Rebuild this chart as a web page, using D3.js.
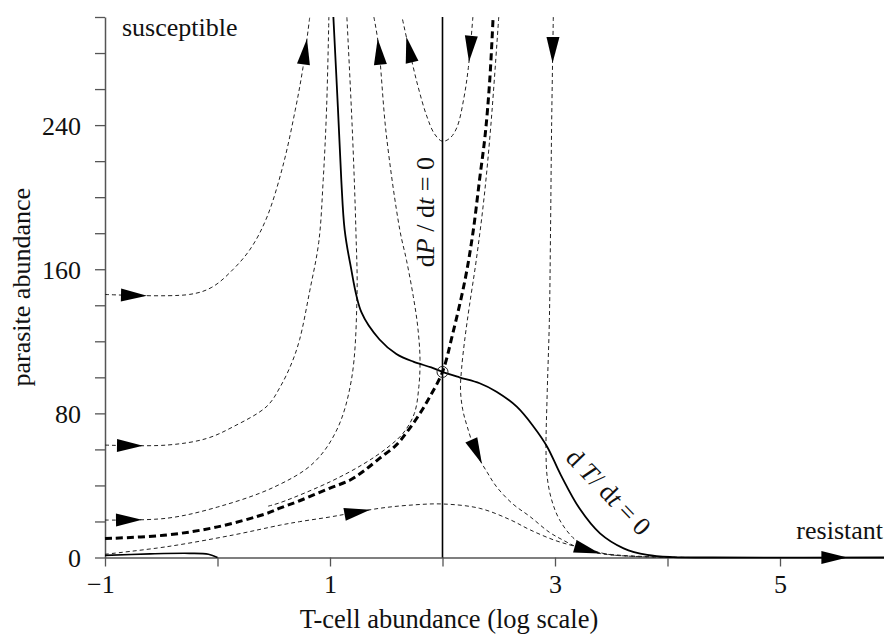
<!DOCTYPE html>
<html>
<head>
<meta charset="utf-8">
<script src="https://cdn.jsdelivr.net/npm/d3@7"></script>
<style>
  html, body { margin: 0; padding: 0; background: #fff; }
  svg { display: block; }
  text { font-family: "Liberation Serif", "Times New Roman", serif; fill: #111; }
</style>
</head>
<body>
<svg id="chart" width="884" height="636"></svg>
<script>
// ---------- axes ----------
const xTicks = [-1, 0, 1, 2, 3, 4, 5, 6];
const xTickLabels = { "-1": "\u22121", "1": "1", "3": "3", "5": "5" };
const yTicks = [0, 20, 40, 60, 80, 100, 120, 140, 160, 180, 200, 220, 240, 260, 280, 300];
const yTickLabels = [0, 80, 160, 240];

// ---------- nullclines: [log T-cell abundance, parasite abundance] ----------
const dTNullcline = [
  [1.03, 300], [1.07, 250], [1.10, 210], [1.13, 182], [1.18, 163], [1.28, 136],
  [1.44, 121], [1.59, 113], [1.74, 108.7], [1.90, 105.5], [2.0, 103], [2.15, 100],
  [2.33, 96.7], [2.48, 92], [2.66, 83.7], [2.81, 72.6], [2.93, 61.5], [3.05, 46],
  [3.22, 27], [3.40, 13.4], [3.61, 5.1], [3.82, 1.4], [4.05, 0.2], [4.4, 0], [6.1, 0]
];
const dTNullclineLow = [[-1, 1.2], [-0.6, 2.0], [-0.25, 2.3], [-0.08, 1.8], [0.0, 0]];
const dPNullcline = [[2, 0], [2, 300]];
const saddlePoint = [2, 103];

// ---------- stable manifold of the saddle (threshold) ----------
const separatrix = [
  [-1, 10.5], [-0.45, 12.5], [0, 17], [0.44, 24.5], [0.56, 27.5], [0.73, 31.5],
  [1.0, 38.5], [1.18, 43], [1.30, 48], [1.44, 55], [1.59, 62.5], [1.70, 71],
  [1.80, 80], [1.89, 89.5], [2.0, 103], [2.09, 124], [2.20, 154], [2.27, 180],
  [2.33, 210], [2.38, 235], [2.42, 265], [2.45, 300]
];

// ---------- sample trajectories, in direction of travel ----------
const trajA = [
  [-1, 146], [-0.25, 146], [-0.05, 150], [0.14, 160], [0.30, 172], [0.44, 189],
  [0.58, 217], [0.69, 248], [0.76, 272], [0.82, 300]
];
const trajB = [
  [-1, 62.4], [-0.45, 62.4], [-0.1, 66], [0.14, 72.6], [0.44, 84], [0.56, 95],
  [0.66, 108], [0.73, 121], [0.82, 148], [0.90, 175], [0.94, 210], [0.97, 250], [0.99, 300]
];
const trajC = [
  [-1, 20.8], [-0.45, 21.8], [0, 28], [0.5, 39], [0.85, 52.3], [1.06, 70.8],
  [1.19, 98.5], [1.24, 144.7], [1.23, 181.8], [1.20, 235], [1.15, 300]
];
const trajD = [
  [-1, 1.8], [-0.45, 6], [0.14, 12.5], [0.56, 18], [0.73, 19.9], [1.0, 22.5],
  [1.18, 24.5], [1.44, 27.3], [1.7, 29], [2.0, 29.7], [2.33, 27.3], [2.6, 21],
  [2.78, 15.3], [3.0, 9.5], [3.19, 6], [3.4, 2.5], [3.7, 0.8], [4.2, 0]
];
const trajE = [
  [0.45, 28.5], [0.56, 30.5], [1.0, 42], [1.3, 52], [1.5, 60.5], [1.65, 69],
  [1.75, 80], [1.79, 95], [1.80, 110], [1.78, 128], [1.74, 145], [1.68, 165],
  [1.62, 182], [1.50, 235], [1.43, 285], [1.39, 300]
];
const trajF = [
  [2.50, 300], [2.43, 240], [2.37, 200], [2.30, 165], [2.24, 140], [2.20, 122],
  [2.17, 105], [2.16, 93], [2.18, 82], [2.22, 72.6], [2.30, 58], [2.40, 47],
  [2.48, 39.3], [2.62, 30], [2.78, 22.6], [2.95, 14], [3.07, 9.7], [3.22, 5.1],
  [3.4, 2.2], [3.7, 0.6], [4.2, 0]
];
const trajG = [
  [2.27, 300], [2.23, 272], [2.19, 255], [2.13, 239], [2.07, 233], [2.0, 231],
  [1.93, 235], [1.86, 245], [1.78, 262], [1.70, 283], [1.64, 300]
];
const trajH = [
  [2.985, 300], [2.97, 240], [2.96, 180], [2.95, 132], [2.93, 90], [2.92, 60],
  [2.93, 45], [2.97, 32], [3.04, 21], [3.16, 11], [3.3, 5], [3.45, 2], [3.7, 0.6], [4.2, 0]
];

// arrowheads: which curve, and roughly where the tip sits
const arrowSpecs = [
  ["trajA", [-0.627, 146]], ["trajB", [-0.662, 62.4]], ["trajC", [-0.671, 20.8]],
  ["trajD", [1.356, 26.2]], ["trajA", [0.79, 288]], ["trajE", [1.43, 288]],
  ["trajG", [1.676, 289]], ["trajG", [2.253, 275]], ["trajH", [2.982, 274.5]],
  ["trajF", [2.36, 52.4]], ["trajF", [3.40, 2.4]], ["dTNullcline", [5.6, 0]]
];

// ---------- drawing ----------
const svg = d3.select("#chart");
const x = d3.scaleLinear().domain([-1, 6]).range([105, 892.5]);
const y = d3.scaleLinear().domain([0, 300]).range([557.5, 17]);
const FONT = 26;
const axisColor = "#555";

// y axis
const gy = svg.append("g").attr("transform", `translate(${x(-1)},0)`)
  .call(d3.axisLeft(y).tickValues(yTicks).tickSize(10).tickSizeOuter(0).tickPadding(14)
    .tickFormat(d => yTickLabels.includes(d) ? d : ""));
// x axis
const gx = svg.append("g").attr("transform", `translate(0,${y(0)})`)
  .call(d3.axisBottom(x).tickValues(xTicks).tickSize(9).tickSizeOuter(0).tickPadding(8)
    .tickFormat(d => xTickLabels[d] || ""));
[gx, gy].forEach(g => {
  g.attr("font-family", null).attr("font-size", null);
  g.select(".domain").attr("stroke", axisColor).attr("stroke-width", 1.5);
  g.selectAll(".tick line").attr("stroke", axisColor).attr("stroke-width", 1.3);
  g.selectAll(".tick text").attr("font-size", FONT).attr("fill", "#111");
});
gy.selectAll(".tick text").attr("dy", "0.35em");
gx.selectAll(".tick text").filter(d => d < 0).attr("dx", "-0.18em");

// axis titles
svg.append("text")
  .attr("transform", `translate(30,${(y(0) + y(300)) / 2}) rotate(-90)`)
  .attr("text-anchor", "middle").attr("font-size", FONT)
  .text("parasite abundance");
svg.append("text")
  .attr("x", 449).attr("y", 628)
  .attr("text-anchor", "middle").attr("font-size", 26.5)
  .text("T-cell abundance (log scale)");

const line = d3.line()
  .x(d => x(d[0])).y(d => y(d[1]))
  .curve(d3.curveCatmullRom.alpha(0.5));

const curves = { trajA, trajB, trajC, trajD, trajE, trajF, trajG, trajH };
const nodes = {};

// thin dashed trajectories
Object.entries(curves).forEach(([name, pts]) => {
  nodes[name] = svg.append("path")
    .attr("d", line(pts))
    .attr("fill", "none").attr("stroke", "#222")
    .attr("stroke-width", 1).attr("stroke-dasharray", "4,3")
    .node();
});

// separatrix
svg.append("path").attr("d", line(separatrix))
  .attr("fill", "none").attr("stroke", "#000")
  .attr("stroke-width", 3).attr("stroke-dasharray", "7,4");

// nullclines
nodes.dTNullcline = svg.append("path").attr("d", line(dTNullcline))
  .attr("fill", "none").attr("stroke", "#000").attr("stroke-width", 1.8).node();
svg.append("path").attr("d", line(dTNullclineLow))
  .attr("fill", "none").attr("stroke", "#000").attr("stroke-width", 1.6);
svg.append("path").attr("d", d3.line().x(d => x(d[0])).y(d => y(d[1]))(dPNullcline))
  .attr("fill", "none").attr("stroke", "#000").attr("stroke-width", 1.6);

// saddle equilibrium
svg.append("circle")
  .attr("cx", x(saddlePoint[0])).attr("cy", y(saddlePoint[1])).attr("r", 5.5)
  .attr("fill", "none").attr("stroke", "#222").attr("stroke-width", 1);

// arrowheads placed on their curves
const AL = 26, AW = 6.5;
arrowSpecs.forEach(([name, tipData]) => {
  const node = nodes[name];
  const total = node.getTotalLength();
  const tx = x(tipData[0]), ty = y(tipData[1]);
  let best = 0, bestD = Infinity;
  for (let l = 0; l <= total; l += 0.5) {
    const p = node.getPointAtLength(l);
    const dd = (p.x - tx) ** 2 + (p.y - ty) ** 2;
    if (dd < bestD) { bestD = dd; best = l; }
  }
  const tip = node.getPointAtLength(best);
  const back = node.getPointAtLength(Math.max(0, best - AL));
  const a = Math.atan2(tip.y - back.y, tip.x - back.x);
  const bx = tip.x - AL * Math.cos(a), by = tip.y - AL * Math.sin(a);
  const nx = -Math.sin(a) * AW, ny = Math.cos(a) * AW;
  svg.append("path")
    .attr("d", `M${tip.x},${tip.y}L${bx + nx},${by + ny}L${bx - nx},${by - ny}Z`)
    .attr("fill", "#000");
});

// region labels
svg.append("text").attr("x", 122).attr("y", 36).attr("font-size", FONT).text("susceptible");
svg.append("text").attr("x", 883).attr("y", 539).attr("text-anchor", "end")
  .attr("font-size", FONT).text("resistant");

// nullcline labels
const lp = svg.append("text")
  .attr("transform", `translate(${x(1.92)},${y(191.7)}) rotate(-90)`)
  .attr("text-anchor", "middle").attr("font-size", FONT);
lp.append("tspan").text("d");
lp.append("tspan").attr("font-style", "italic").text("P");
lp.append("tspan").text(" / d");
lp.append("tspan").attr("font-style", "italic").text("t");
lp.append("tspan").text(" = 0");

const lt = svg.append("text")
  .attr("transform", `translate(${x(3.42)},${y(33)}) rotate(46)`)
  .attr("text-anchor", "middle").attr("font-size", FONT);
lt.append("tspan").text("d ");
lt.append("tspan").attr("font-style", "italic").text("T");
lt.append("tspan").text("/ d");
lt.append("tspan").attr("font-style", "italic").text("t");
lt.append("tspan").text(" = 0");
</script>
</body>
</html>
